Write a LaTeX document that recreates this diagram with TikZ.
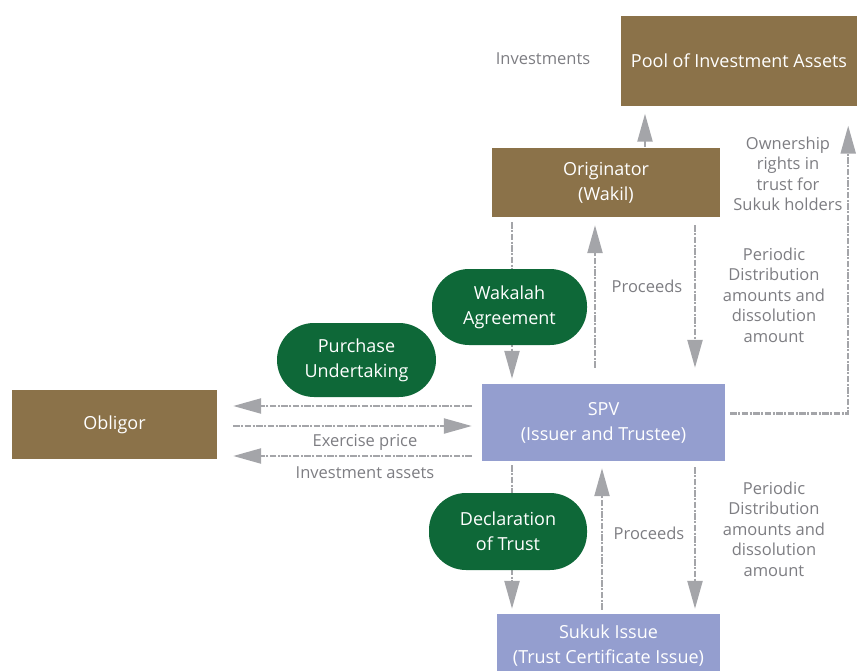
\documentclass[tikz,border=0pt]{standalone}
\usepackage{fontspec}
\setmainfont{Open Sans}
\usetikzlibrary{arrows.meta}
\definecolor{boxbrown}{RGB}{139,114,73}
\definecolor{pillgreen}{RGB}{14,104,56}
\definecolor{spvblue}{RGB}{148,158,207}
\definecolor{arrgray}{RGB}{164,165,169}
\definecolor{labgray}{RGB}{125,125,130}
\tikzset{
  boxnode/.style={rectangle, draw=none, text=white, align=center, inner sep=0pt,
    font=\fontsize{18}{25}\selectfont},
  brownbox/.style={boxnode, fill=boxbrown},
  bluebox/.style={boxnode, fill=spvblue},
  pill/.style={boxnode, fill=pillgreen, rounded corners=37pt},
  lab/.style={text=labgray, align=center, inner sep=0pt, font=\fontsize{16.5}{20.5}\selectfont},
  arr/.style={draw=arrgray, line width=2.3pt,
    dash pattern=on 6.5pt off 1.5pt on 2pt off 1.5pt,
    -{Triangle[length=28pt,width=15pt,fill=arrgray]}},
}
\begin{document}
\begin{tikzpicture}[x=1pt,y=-1pt]
\useasboundingbox (0,0) rectangle (857,670);
% boxes
\node[brownbox, minimum width=236pt, minimum height=90pt] (pool) at (739,60.5) {Pool of Investment Assets};
\node[brownbox, minimum width=228pt, minimum height=69pt] (orig) at (606,182.5) {Originator\\(Wakil)};
\node[brownbox, minimum width=205pt, minimum height=69pt] (obl) at (114.5,424.5) {Obligor};
\node[bluebox, minimum width=243pt, minimum height=77pt] (spv) at (603.5,422.5) {SPV\\(Issuer and Trustee)};
\node[bluebox, minimum width=223pt, minimum height=64pt] (sukuk) at (608.5,646) {Sukuk Issue\\(Trust Certificate Issue)};
% arrows
\draw[arr, shorten <=1pt, shorten >=8pt] ([xshift=39pt]orig.north) -- ([xshift=39pt]orig.north |- pool.south);
\draw[arr, shorten <=5pt, shorten >=5pt] ([xshift=-94pt]orig.south) -- ([xshift=-94pt]orig.south |- spv.north);
\draw[arr, shorten <=16pt, shorten >=8pt] ([xshift=-11pt]orig.south |- spv.north) -- ([xshift=-11pt]orig.south);
\draw[arr, shorten <=8pt, shorten >=16pt] ([xshift=89pt]orig.south) -- ([xshift=89pt]orig.south |- spv.north);
\draw[arr, shorten <=5pt, shorten >=20pt] ([yshift=9pt]spv.east) -| ([xshift=-9pt]pool.south east);
\draw[arr, shorten <=10pt, shorten >=16pt] ([yshift=16.5pt]spv.west) -- ([yshift=16.5pt]spv.west -| obl.east);
\draw[arr, shorten <=16pt, shorten >=10pt] ([yshift=-3.5pt]spv.west -| obl.east) -- ([yshift=-3.5pt]spv.west);
\draw[arr, shorten <=10pt, shorten >=16pt] ([yshift=-33.5pt]spv.west) -- ([yshift=-33.5pt]spv.west -| obl.east);
\draw[arr, shorten <=4pt, shorten >=5pt] ([xshift=-91.5pt]spv.south) -- ([xshift=-91.5pt]spv.south |- sukuk.north);
\draw[arr, shorten <=4pt, shorten >=7pt] ([xshift=-1.5pt]spv.south |- sukuk.north) -- ([xshift=-1.5pt]spv.south);
\draw[arr, shorten <=6pt, shorten >=5pt] ([xshift=91.5pt]spv.south) -- ([xshift=91.5pt]spv.south |- sukuk.north);
% pills
\node[pill, minimum width=155pt, minimum height=76pt] (wak) at (509.5,307) {Wakalah\\Agreement};
\node[pill, minimum width=159pt, minimum height=74pt] (pur) at (356.5,360) {Purchase\\Undertaking};
\node[pill, minimum width=158pt, minimum height=77pt] (decl) at (508,531.5) {Declaration\\of Trust};
% labels
\node[lab] (linv) at (543,59) {Investments};
\node[lab] (lown) at (788,174) {Ownership\\rights in\\trust for\\Sukuk holders};
\node[lab] (lpro1) at (647,286) {Proceeds};
\node[lab] (lper1) at (774,295) {Periodic\\Distribution\\amounts and\\dissolution\\amount};
\node[lab] (lex) at (365,442) {Exercise price};
\node[lab] (lia) at (365,473) {Investment assets};
\node[lab] (lpro2) at (649,533) {Proceeds};
\node[lab] (lper2) at (774,529) {Periodic\\Distribution\\amounts and\\dissolution\\amount};
\end{tikzpicture}
\end{document}
